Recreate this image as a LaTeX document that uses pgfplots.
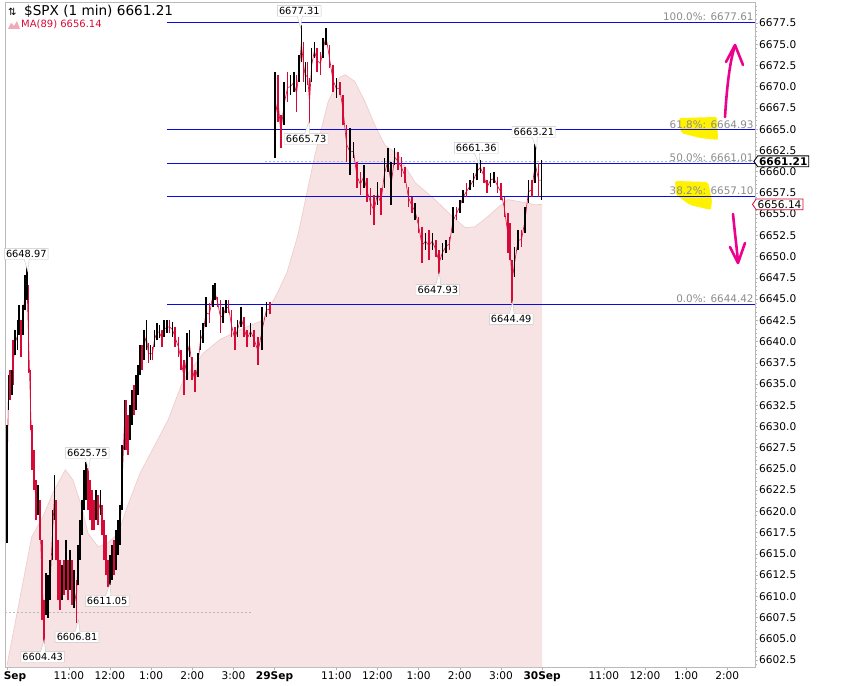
\documentclass[border=0pt]{standalone}
\usepackage{fontspec}
\setmainfont{DejaVu Sans}
\usepackage{pgfplots}
\pgfplotsset{compat=1.18}
\usepackage{pgfplotstable}
\usetikzlibrary{shapes.symbols,shapes.callouts}

\definecolor{fibblue}{RGB}{10,10,225}
\definecolor{barred}{RGB}{215,10,55}
\definecolor{mafill}{RGB}{247,227,227}
\definecolor{maedge}{RGB}{240,205,205}
\definecolor{fibgray}{RGB}{140,140,140}

\pgfplotstableread{
x lo hi c
0 6616.27 6630.16 1
2 6631.93 6636.05 1
4 6633.11 6636.64 0
7 6633.70 6636.64 1
9 6634.87 6640.17 0
12 6638.41 6641.35 1
15 6639.00 6642.53 1
17 6640.76 6644.29 1
20 6638.17 6642.53 0
23 6640.76 6644.29 1
26 6643.71 6647.83 1
29 6644.88 6648.97 1
31 6636.29 6646.65 0
34 6629.58 6636.64 0
36 6624.87 6630.16 0
39 6622.51 6627.22 0
42 6618.98 6623.69 0
45 6619.57 6623.10 1
48 6616.62 6621.33 0
51 6607.20 6616.62 0
54 6604.43 6609.56 0
57 6607.79 6612.74 1
60 6607.44 6612.50 1
63 6609.56 6614.27 1
66 6614.27 6620.16 1
69 6618.98 6624.28 1
71 6614.27 6621.33 0
74 6609.56 6616.62 0
77 6608.38 6614.27 0
80 6609.56 6613.68 1
83 6610.15 6614.27 0
86 6610.74 6616.62 1
89 6609.56 6614.27 0
92 6610.74 6615.45 1
95 6608.97 6614.27 0
98 6608.62 6613.09 1
101 6606.81 6611.91 0
103 6611.32 6616.03 1
106 6614.27 6618.98 1
109 6617.21 6621.33 1
112 6620.16 6624.87 1
115 6621.33 6625.75 1
118 6620.16 6625.10 0
121 6618.98 6623.69 0
124 6617.80 6622.51 0
127 6617.80 6621.33 0
130 6618.98 6622.51 1
133 6618.39 6621.92 0
136 6619.57 6622.51 1
138 6617.21 6620.74 0
141 6614.27 6618.98 0
144 6612.50 6617.21 0
147 6611.05 6614.27 0
150 6611.32 6614.86 1
153 6611.91 6616.03 1
156 6612.50 6616.62 0
159 6613.09 6617.80 1
162 6614.86 6618.98 1
165 6616.03 6620.74 1
168 6620.16 6627.81 1
171 6627.22 6633.11 1
173 6627.22 6633.11 0
176 6626.63 6631.34 0
179 6628.40 6632.52 1
182 6630.16 6634.29 1
185 6631.34 6634.87 0
188 6631.93 6636.05 1
191 6633.70 6637.23 1
194 6636.05 6639.58 1
197 6636.64 6639.58 0
200 6637.82 6641.35 1
203 6639.00 6642.53 1
206 6637.47 6639.82 0
209 6637.82 6639.58 1
212 6637.82 6639.35 0
215 6639.35 6641.35 1
219 6640.17 6642.18 1
222 6640.40 6641.90 1
226 6639.35 6641.35 0
229 6640.53 6642.53 1
233 6641.00 6642.53 1
237 6641.00 6642.53 0
241 6640.53 6642.29 1
245 6639.35 6641.70 0
250 6638.17 6640.53 0
254 6636.64 6639.00 0
258 6633.70 6637.82 0
262 6635.46 6641.00 1
266 6638.17 6641.35 1
270 6635.46 6638.17 0
274 6634.05 6636.64 0
278 6635.82 6638.64 1
282 6639.00 6641.35 1
286 6639.82 6642.18 1
290 6641.70 6645.24 1
295 6642.18 6644.53 0
300 6644.06 6646.65 1
303 6644.88 6646.89 1
307 6644.06 6645.24 0
311 6641.00 6644.88 0
315 6642.18 6644.06 1
319 6643.35 6644.88 1
323 6643.35 6644.88 0
327 6640.53 6643.71 0
332 6639.00 6641.70 0
336 6640.53 6642.53 1
341 6641.70 6644.06 1
345 6640.53 6642.88 0
350 6639.35 6641.35 0
355 6640.53 6642.18 1
360 6639.35 6641.35 0
366 6637.23 6640.53 0
372 6639.00 6644.06 1
378 6642.88 6644.65 1
383 6643.20 6644.70 0
391 6661.60 6671.73 1
395 6665.84 6671.38 0
399 6662.78 6666.67 0
404 6665.49 6670.55 1
409 6668.20 6671.73 0
413 6669.02 6671.38 1
418 6669.38 6671.73 1
422 6667.02 6671.38 0
426 6670.55 6673.73 1
429 6672.91 6677.31 1
432 6670.55 6675.26 0
435 6669.38 6672.91 1
438 6670.20 6672.91 0
441 6665.73 6671.02 0
444 6670.55 6674.56 1
448 6673.38 6675.26 1
452 6671.73 6674.56 0
457 6671.38 6674.09 0
461 6673.38 6675.73 1
465 6674.91 6676.91 1
470 6672.20 6674.91 0
475 6669.38 6672.55 0
480 6668.67 6671.02 1
485 6669.02 6670.55 0
490 6665.49 6669.02 0
495 6661.13 6665.49 0
500 6659.60 6665.14 1
505 6661.60 6663.49 1
510 6658.07 6661.13 0
515 6657.25 6659.96 0
520 6658.07 6660.78 1
525 6656.42 6659.25 0
530 6654.89 6658.07 0
535 6653.71 6657.25 0
540 6656.07 6658.78 1
545 6654.89 6658.07 0
550 6658.07 6661.60 1
555 6659.96 6662.78 1
560 6656.07 6661.13 1
565 6660.78 6662.78 1
570 6660.19 6662.31 0
575 6659.37 6661.72 0
580 6658.66 6660.54 0
585 6655.83 6658.19 0
590 6655.13 6657.01 0
595 6654.30 6656.31 1
600 6652.77 6654.66 0
605 6649.24 6653.48 0
610 6650.77 6652.77 1
615 6649.59 6653.13 0
620 6650.77 6652.77 1
625 6649.95 6651.95 0
630 6647.93 6650.77 0
635 6649.59 6651.60 1
640 6650.42 6651.95 1
645 6650.77 6652.30 0
650 6652.77 6655.83 1
655 6654.30 6655.83 0
660 6655.13 6656.66 1
665 6656.31 6657.84 1
670 6657.01 6658.66 0
675 6657.84 6659.01 1
680 6658.19 6659.84 1
685 6659.01 6661.01 1
690 6659.84 6661.36 1
695 6658.66 6660.54 0
700 6657.48 6659.01 0
705 6658.19 6659.84 1
710 6658.66 6659.96 1
715 6657.48 6659.37 0
720 6656.66 6658.66 0
725 6654.66 6657.01 0
730 6650.42 6655.13 0
733 6649.59 6653.90 0
736 6644.49 6649.59 0
740 6647.59 6651.12 1
745 6650.77 6653.13 1
750 6651.12 6653.13 0
755 6652.77 6655.83 1
760 6656.31 6659.01 1
765 6657.01 6659.01 0
770 6658.66 6663.21 1
775 6657.01 6661.01 0
779 6656.66 6661.40 1
}\price

\pgfplotstableread{
x y
0 6601.9
36 6617.0
52 6619.3
67 6622.2
85 6624.9
96 6623.7
109 6620.5
118 6617.4
133 6615.8
147 6616.3
162 6617.4
175 6620.5
194 6624.5
235 6630.8
257 6635.5
286 6638.6
310 6640.2
340 6641.4
373 6642.5
394 6645.7
408 6648.1
424 6652.5
449 6662.0
468 6668.2
485 6671.1
493 6671.4
507 6670.6
522 6668.2
536 6665.5
551 6663.1
570 6662.0
595 6658.7
624 6656.7
649 6654.7
668 6653.4
682 6653.5
701 6654.7
716 6655.8
730 6656.7
751 6656.4
770 6656.1
780 6656.14
}\ma

\pgfplotstableread{
x y
0 6601.67
0 6601.9
36 6617.0
52 6619.3
67 6622.2
85 6624.9
96 6623.7
109 6620.5
118 6617.4
133 6615.8
147 6616.3
162 6617.4
175 6620.5
194 6624.5
235 6630.8
257 6635.5
286 6638.6
310 6640.2
340 6641.4
373 6642.5
394 6645.7
408 6648.1
424 6652.5
449 6662.0
468 6668.2
485 6671.1
493 6671.4
507 6670.6
522 6668.2
536 6665.5
551 6663.1
570 6662.0
595 6658.7
624 6656.7
649 6654.7
668 6653.4
682 6653.5
701 6654.7
716 6655.8
730 6656.7
751 6656.4
770 6656.1
780 6656.14
780 6601.67
}\mafillt

\tikzset{lbl/.style={rectangle callout, draw=gray!45, fill=white, inner sep=1.6pt,
  callout pointer width=5pt, font=\fontsize{9.8}{11}\selectfont}}

\begin{document}
\begin{tikzpicture}
\useasboundingbox (0,0) rectangle (848pt,685pt);
% yellow highlights (annotation)
\fill[yellow, rounded corners=2pt] (679pt,567pt) -- (717pt,568pt) -- (718pt,545pt) -- (700pt,547pt) -- (681pt,552pt) -- cycle;
\fill[yellow, rounded corners=2pt] (675pt,504pt) -- (708pt,503pt) -- (712pt,485pt) -- (711pt,475pt) -- (690pt,480pt) -- (676pt,490pt) -- cycle;
\begin{axis}[
  at={(5pt,18pt)}, anchor=south west,
  scale only axis, width=750pt, height=665pt,
  xmin=-3, xmax=1090.4, ymin=6601.67, ymax=6679.97,
  clip=false,
  axis line style={gray!55, line width=0.6pt},
  tick align=outside,
  major tick length=3pt,
  minor tick length=1.5pt,
  tick style={gray!60, line width=0.4pt},
  xtick pos=bottom,
  ytick pos=right,
  yticklabel pos=right,
  xtick={90,150,210,270,330,390,480,540,600,660,720,780,870,930,990,1050},
  xticklabels={11:00,12:00,1:00,2:00,3:00,\textbf{29Sep},11:00,12:00,1:00,2:00,3:00,\textbf{30Sep},11:00,12:00,1:00,2:00},
  extra x ticks={0},
  extra x tick labels={\textbf{Sep}},
  extra x tick style={xticklabel style={anchor=north west, xshift=-5pt}},
  xticklabel style={font=\fontsize{10.6}{12}\selectfont, inner sep=1.5pt},
  ytick distance=2.5,
  minor y tick num=4,
  yticklabel style={anchor=west, inner sep=1pt, font=\fontsize{10.6}{12}\selectfont,
    /pgf/number format/.cd, fixed, fixed zerofill, precision=1, 1000 sep={}},
  /pgf/number format/assume math mode=true,
]
% MA(89) area
\addplot[fill=mafill, draw=none, forget plot] table {\mafillt};
\addplot[maedge, line width=0.7pt, forget plot] table {\ma};
% dotted reference lines
\addplot[gray!55, dash pattern=on 2pt off 2pt, line width=0.5pt, forget plot] coordinates {(-3,6608.15) (357,6608.15)};
\addplot[gray!55, dash pattern=on 2pt off 2pt, line width=0.5pt, forget plot] coordinates {(376,6661.21) (1090.4,6661.21)};
% Fibonacci lines
\addplot[fibblue, line width=0.8pt, forget plot] coordinates {(233,6677.61) (1090.4,6677.61)};
\addplot[fibblue, line width=0.8pt, forget plot] coordinates {(233,6664.93) (1090.4,6664.93)};
\addplot[fibblue, line width=0.8pt, forget plot] coordinates {(233,6661.01) (1090.4,6661.01)};
\addplot[fibblue, line width=0.8pt, forget plot] coordinates {(233,6657.10) (1090.4,6657.10)};
\addplot[fibblue, line width=0.8pt, forget plot] coordinates {(233,6644.42) (1090.4,6644.42)};
% price path (one piece per session)
\addplot[barred, line width=0.6pt, no markers, forget plot, restrict x to domain=-10:386] table[x=x, y expr={(\thisrow{lo}+\thisrow{hi})/2}] {\price};
\addplot[barred, line width=0.6pt, no markers, forget plot, restrict x to domain=388:800] table[x=x, y expr={(\thisrow{lo}+\thisrow{hi})/2}] {\price};
\addplot[barred, line width=1.6pt, no markers, forget plot,
  quiver={u=0, v={(\thisrow{hi}-\thisrow{lo})*(1-\thisrow{c})}}]
  table[x=x, y=lo] {\price};
\addplot[black, line width=1.6pt, no markers, forget plot,
  quiver={u=0, v={(\thisrow{hi}-\thisrow{lo})*\thisrow{c}}}]
  table[x=x, y=lo] {\price};
% Fibonacci labels
\node[anchor=south east, inner sep=1.2pt, text=fibgray, font=\fontsize{10.4}{12}\selectfont] at (axis cs:1090.4,6677.61) {100.0\%: 6677.61};
\node[anchor=south east, inner sep=1.2pt, text=fibgray, font=\fontsize{10.4}{12}\selectfont] at (axis cs:1090.4,6664.93) {61.8\%: 6664.93};
\node[anchor=south east, inner sep=1.2pt, text=fibgray, font=\fontsize{10.4}{12}\selectfont] at (axis cs:1090.4,6661.01) {50.0\%: 6661.01};
\node[anchor=south east, inner sep=1.2pt, text=fibgray, font=\fontsize{10.4}{12}\selectfont] at (axis cs:1090.4,6657.10) {38.2\%: 6657.10};
\node[anchor=south east, inner sep=1.2pt, text=fibgray, font=\fontsize{10.4}{12}\selectfont] at (axis cs:1090.4,6644.42) {0.0\%: 6644.42};
% point labels
\node[lbl, callout relative pointer={(1pt,-12pt)}] at (axis cs:426,6678.91) {6677.31};
\node[lbl, callout relative pointer={(2pt,12pt)}] at (axis cs:436,6663.84) {6665.73};
\node[lbl, callout relative pointer={(1pt,-12pt)}] at (axis cs:28,6650.30) {6648.97};
\node[lbl, callout relative pointer={(1pt,-12pt)}] at (axis cs:117,6626.87) {6625.75};
\node[lbl, callout relative pointer={(2pt,12pt)}] at (axis cs:146,6609.44) {6611.05};
\node[lbl, callout relative pointer={(1pt,12pt)}] at (axis cs:102,6605.20) {6606.81};
\node[lbl, callout relative pointer={(1pt,12pt)}] at (axis cs:52,6602.85) {6604.43};
\node[lbl, callout relative pointer={(2pt,-12pt)}] at (axis cs:684,6662.78) {6661.36};
\node[lbl, callout relative pointer={(1pt,12pt)}] at (axis cs:628,6646.06) {6647.93};
\node[lbl, callout relative pointer={(2pt,-12pt)}] at (axis cs:768,6664.67) {6663.21};
\node[lbl, callout relative pointer={(1pt,12pt)}] at (axis cs:735,6642.64) {6644.49};
% value boxes on the price axis
\node[signal, signal to=west, signal pointer angle=110, draw=black, line width=0.9pt, fill=white, inner sep=1.4pt, anchor=west, font=\bfseries\fontsize{10.6}{12}\selectfont] at (axis cs:1088,6661.21) {6661.21};
\node[signal, signal to=west, signal pointer angle=110, draw=barred, line width=0.8pt, fill=white, inner sep=1.4pt, anchor=west, font=\fontsize{10.6}{12}\selectfont] at (axis cs:1086,6656.14) {6656.14};
\end{axis}
% title and legend text
\node[anchor=west, inner sep=0pt, font=\fontsize{10}{12}\selectfont] at (8pt,673.5pt) {⇅};
\node[anchor=west, inner sep=0pt, font=\fontsize{13.6}{15}\selectfont] at (24pt,673.5pt) {\$SPX (1 min) 6661.21};
\fill[barred!35] (8pt,656pt) -- (11pt,662pt) -- (14pt,659pt) -- (17pt,664pt) -- (20pt,656pt) -- cycle;
\node[anchor=west, inner sep=0pt, text=barred, font=\fontsize{10}{12}\selectfont] at (21pt,661pt) {MA(89) 6656.14};
% hand-drawn magenta arrows
\draw[magenta, line width=2.6pt, line cap=round, line join=round] (725pt,568pt) .. controls (727pt,600pt) and (730pt,625pt) .. (735pt,639pt);
\draw[magenta, line width=2.6pt, line cap=round, line join=round] (726pt,623pt) -- (735pt,640pt) -- (743pt,620pt);
\draw[magenta, line width=2.6pt, line cap=round, line join=round] (733pt,471pt) .. controls (735pt,450pt) and (737pt,435pt) .. (738pt,423pt);
\draw[magenta, line width=2.6pt, line cap=round, line join=round] (730pt,438pt) -- (738pt,422pt) -- (745pt,442pt);
\end{tikzpicture}
\end{document}
